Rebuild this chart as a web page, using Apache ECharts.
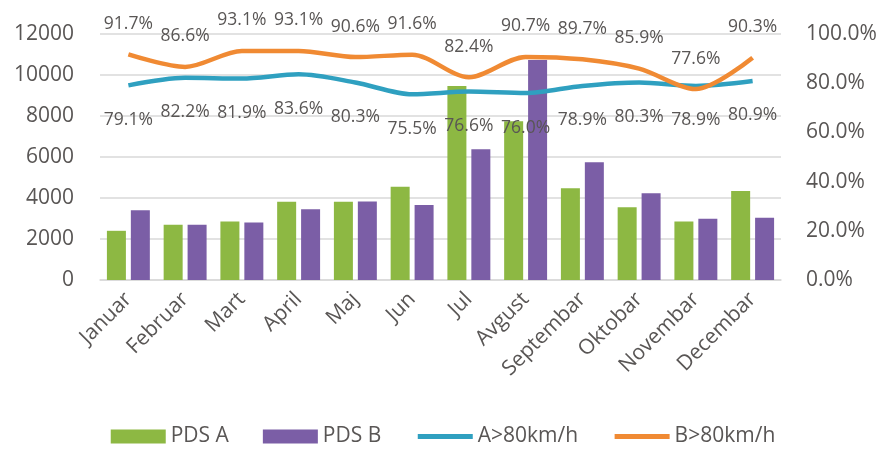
<!DOCTYPE html>
<html>
<head>
<meta charset="utf-8">
<script src="https://cdn.jsdelivr.net/npm/echarts@6/dist/echarts.min.js"></script>
<style>
  html, body { margin: 0; padding: 0; background: #ffffff; }
  #chart { width: 886px; height: 456px; }
</style>
</head>
<body>
<div id="chart"></div>
<script>
  // data
  const months = ['Januar', 'Februar', 'Mart', 'April', 'Maj', 'Jun', 'Jul',
                  'Avgust', 'Septembar', 'Oktobar', 'Novembar', 'Decembar'];
  const pdsA = [2400, 2700, 2850, 3820, 3820, 4550, 9460, 7750, 4470, 3550, 2850, 4340];
  const pdsB = [3400, 2700, 2800, 3450, 3830, 3660, 6380, 10730, 5740, 4230, 2990, 3040];
  const overA = [79.1, 82.2, 81.9, 83.6, 80.3, 75.5, 76.6, 76.0, 78.9, 80.3, 78.9, 80.9];
  const overB = [91.7, 86.6, 93.1, 93.1, 90.6, 91.6, 82.4, 90.7, 89.7, 85.9, 77.6, 90.3];

  const font = "'Open Sans', 'Noto Sans', sans-serif";
  const grey = '#595655';
  const pct = p => p.value.toFixed(1) + '%';

  let myChart = echarts.init(document.getElementById('chart'));
  myChart.setOption({
    animation: false,
    textStyle: { fontFamily: font },
    grid: { left: 100, right: 105, top: 34, bottom: 176 },
    legend: {
      bottom: 4,
      itemWidth: 55,
      itemHeight: 14,
      itemGap: 34,
      textStyle: { fontSize: 21, color: grey, fontFamily: font },
      data: [
        { name: 'PDS A', icon: 'rect' },
        { name: 'PDS B', icon: 'rect' },
        { name: 'A>80km/h', lineStyle: { width: 5 } },
        { name: 'B>80km/h', lineStyle: { width: 5 } }
      ]
    },
    xAxis: {
      type: 'category',
      data: months,
      axisLine: { lineStyle: { color: '#d9d9d9', width: 1.5 } },
      axisTick: { show: false },
      axisLabel: {
        rotate: 45,
        interval: 0,
        margin: 16,
        fontSize: 21,
        color: grey,
        fontFamily: font
      }
    },
    yAxis: [{
      type: 'value',
      min: 0,
      max: 12000,
      interval: 2000,
      axisLine: { show: false },
      axisTick: { show: false },
      axisLabel: { fontSize: 21, color: grey, margin: 26, fontFamily: font, formatter: v => String(v) },
      splitLine: { lineStyle: { color: '#d9d9d9', width: 1.5 } }
    }, {
      type: 'value',
      min: 0,
      max: 100,
      interval: 20,
      axisLine: { show: false },
      axisTick: { show: false },
      splitLine: { show: false },
      axisLabel: {
        fontSize: 21,
        color: grey,
        margin: 25,
        fontFamily: font,
        formatter: v => v.toFixed(1) + '%'
      }
    }],
    series: [{
      name: 'PDS A',
      type: 'bar',
      data: pdsA,
      barWidth: 19,
      barGap: '26%',
      itemStyle: { color: '#8db843' }
    }, {
      name: 'PDS B',
      type: 'bar',
      data: pdsB,
      barWidth: 19,
      itemStyle: { color: '#7b5ea6' }
    }, {
      name: 'A>80km/h',
      type: 'line',
      yAxisIndex: 1,
      data: overA,
      smooth: 0.3,
      symbol: 'circle',
      symbolSize: 1,
      lineStyle: { color: '#2fa0c0', width: 4.5 },
      itemStyle: { color: 'rgba(0,0,0,0)' },
      label: {
        show: true,
        position: 'bottom',
        distance: 25,
        fontSize: 17.5,
        color: grey,
        fontFamily: font,
        formatter: pct
      }
    }, {
      name: 'B>80km/h',
      type: 'line',
      yAxisIndex: 1,
      data: overB,
      smooth: 0.3,
      symbol: 'circle',
      symbolSize: 1,
      lineStyle: { color: '#f08a33', width: 4.5 },
      itemStyle: { color: 'rgba(0,0,0,0)' },
      label: {
        show: true,
        position: 'top',
        distance: 21,
        fontSize: 17.5,
        color: grey,
        fontFamily: font,
        formatter: pct
      }
    }]
  });
</script>
</body>
</html>
